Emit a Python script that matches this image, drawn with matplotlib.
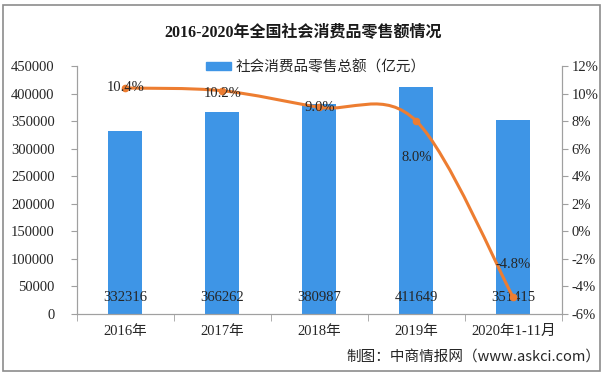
import numpy as np
import matplotlib.pyplot as plt
from matplotlib.path import Path
from matplotlib.patches import PathPatch, Patch

plt.rcParams['font.family'] = ['Liberation Serif', 'Noto Sans CJK SC']

years = ['2016年', '2017年', '2018年', '2019年', '2020年1-11月']
sales = [332316, 366262, 380987, 411649, 351415]
growth = [10.4, 10.2, 9.0, 8.0, -4.8]
growth_labels = ['10.4%', '10.2%', '9.0%', '8.0%', '-4.8%']
# label offsets in points (dy) for growth labels
growth_dy = [0, -2, 0, -26, 24]

bar_color = '#3E95E6'
line_color = '#ED7D31'
text_color = '#262626'


def smooth_path(xs, ys):
    # excel-like smoothed line: cubic bezier, catmull-rom control points
    pts = np.column_stack([xs, ys]).astype(float)
    n = len(pts)
    verts = [pts[0]]
    codes = [Path.MOVETO]
    for i in range(n - 1):
        p0 = pts[i - 1] if i > 0 else pts[i]
        p1 = pts[i]
        p2 = pts[i + 1]
        p3 = pts[i + 2] if i + 2 < n else pts[i + 1]
        c1 = p1 + (p2 - p0) / 6
        c2 = p2 - (p3 - p1) / 6
        verts += [c1, c2, p2]
        codes += [Path.CURVE4] * 3
    return Path(verts, codes)


fig = plt.figure(figsize=(6.06, 3.79), dpi=100)
ax = fig.add_axes([0.127, 0.1715, 0.8, 0.6545])
ax2 = ax.twinx()

x = np.arange(len(years))
ax.bar(x, sales, width=0.35, color=bar_color, zorder=2)
for xi, v in zip(x, sales):
    ax.text(xi, 30000, str(v), ha='center', va='center', fontsize=10.5,
            color=text_color, zorder=5)

ax.set_xlim(-0.5, 4.5)
ax.set_ylim(0, 450000)
ax.set_yticks(np.arange(0, 450001, 50000))
ax.set_xticks(x)
ax.set_xticklabels(years, fontsize=10.5, color=text_color)
ax.set_xticks(np.arange(-0.5, 4.6, 1), minor=True)
ax.tick_params(axis='x', which='major', length=0, pad=8)
ax.tick_params(axis='x', which='minor', length=5, color='#A0A0A0')
ax.tick_params(axis='y', length=4, color='#A0A0A0', labelsize=10.5,
               labelcolor=text_color, pad=12)

ax2.set_ylim(-6, 12)
ax2.set_yticks(np.arange(-6, 12.1, 2))
ax2.set_yticklabels([f'{int(t)}%' for t in np.arange(-6, 12.1, 2)])
ax2.tick_params(axis='y', length=4, color='#A0A0A0', labelsize=10.5,
                labelcolor=text_color, pad=3)

for a in (ax, ax2):
    a.spines['top'].set_visible(False)
    for s in ('left', 'right', 'bottom'):
        a.spines[s].set_color('#A0A0A0')
        a.spines[s].set_linewidth(0.8)

ax2.add_patch(PathPatch(smooth_path(x, growth), facecolor='none',
                        edgecolor=line_color, lw=2.2, zorder=3))
ax2.plot(x, growth, 'o', color=line_color, ms=4.5, zorder=4)
for xi, g, lab, dy in zip(x, growth, growth_labels, growth_dy):
    ax2.annotate(lab, (xi, g), xytext=(0, dy), textcoords='offset points',
                 ha='center', va='center', fontsize=10.5, color=text_color,
                 zorder=5)

fig.text(0.5, 0.913, '2016-2020年全国社会消费品零售额情况', ha='center',
         va='center', fontsize=11.5, fontweight='bold', color='#1A1A1A')
fig.legend(handles=[Patch(color=bar_color, label='社会消费品零售总额（亿元）')],
           loc='center', bbox_to_anchor=(0.521, 0.823), frameon=False,
           fontsize=10.5, handlelength=1.7, handleheight=0.5,
           handletextpad=0.3, labelcolor=text_color)
fig.text(0.99, 0.058, '制图：中商情报网（www.askci.com）', ha='right',
         va='center', fontsize=10.5, color=text_color,
         family=['Noto Sans CJK SC', 'DejaVu Sans'])

# outer frame
fig.add_artist(plt.Rectangle((0.005, 0.021), 0.985, 0.966,
                             transform=fig.transFigure, fill=False,
                             edgecolor='#8C8C8C', lw=1.2))

plt.savefig('out.png', dpi=100)
